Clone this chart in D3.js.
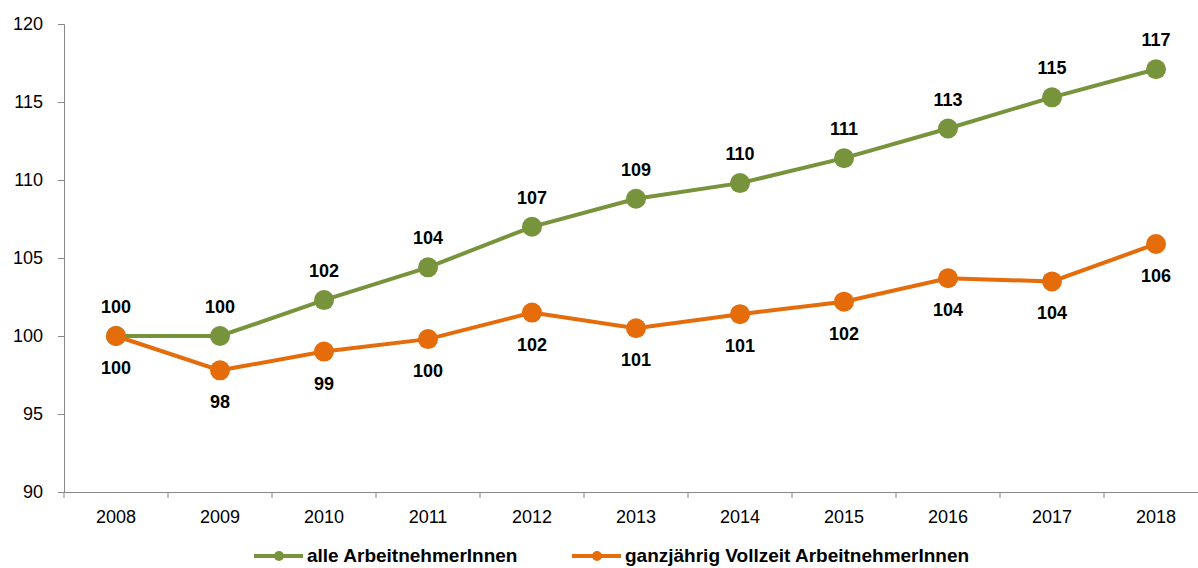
<!DOCTYPE html>
<html>
<head>
<meta charset="utf-8">
<script src="https://cdn.jsdelivr.net/npm/d3@7"></script>
<style>
  body { margin: 0; background: #fff; }
  text { font-family: "Liberation Sans", Arial, sans-serif; }
</style>
</head>
<body>
<div id="chart"></div>
<script>
const years = ['2008', '2009', '2010', '2011', '2012', '2013', '2014', '2015', '2016', '2017', '2018'];
const alle = [100, 100.0, 102.3, 104.4, 107.0, 108.8, 109.8, 111.4, 113.3, 115.3, 117.1];
const vollzeit = [100, 97.8, 99.0, 99.8, 101.5, 100.5, 101.4, 102.2, 103.7, 103.5, 105.9];
const alleLabels = ['100', '100', '102', '104', '107', '109', '110', '111', '113', '115', '117'];
const vollzeitLabels = ['100', '98', '99', '100', '102', '101', '101', '102', '104', '104', '106'];
const yTicks = [90, 95, 100, 105, 110, 115, 120];
const seriesNames = ['alle ArbeitnehmerInnen', 'ganzjährig Vollzeit ArbeitnehmerInnen'];

const width = 1198;
const height = 568;
const margin = { top: 24, right: -10, bottom: 76, left: 64 };

const svg = d3.select('#chart').append('svg')
  .attr('width', width)
  .attr('height', height);

const x = d3.scaleBand()
  .domain(years)
  .range([margin.left, width - margin.right]);

const y = d3.scaleLinear()
  .domain([90, 120])
  .range([height - margin.bottom, margin.top]);

// axes
const yAxis = svg.append('g')
  .attr('transform', `translate(${margin.left},0)`)
  .call(d3.axisLeft(y).tickValues(yTicks).tickSize(6).tickPadding(15));
yAxis.select('.domain').attr('stroke', '#888');
yAxis.selectAll('.tick line').attr('stroke', '#888');
yAxis.selectAll('.tick text').attr('font-size', 18).attr('fill', '#000')
  .attr('font-family', '"Liberation Sans", Arial, sans-serif');

const xAxis = svg.append('g')
  .attr('transform', `translate(0,${height - margin.bottom})`)
  .call(d3.axisBottom(x).tickSize(0).tickPadding(18));
xAxis.select('.domain').attr('stroke', '#888');
xAxis.selectAll('.tick text').attr('font-size', 18).attr('fill', '#000')
  .attr('font-family', '"Liberation Sans", Arial, sans-serif');
xAxis.selectAll('.sep')
  .data(years)
  .enter()
  .append('line')
  .attr('x1', d => x(d))
  .attr('x2', d => x(d))
  .attr('y1', 0)
  .attr('y2', 6)
  .attr('stroke', '#888');

const cx = d => x(d) + x.bandwidth() / 2;

const series = [
  { name: seriesNames[0], values: alle, labels: alleLabels, color: '#77933C', above: true },
  { name: seriesNames[1], values: vollzeit, labels: vollzeitLabels, color: '#E46C0A', above: false },
];

const line = d3.line()
  .x(d => cx(d.year))
  .y(d => y(d.value));

series.forEach(s => {
  const pts = years.map((yr, i) => ({ year: yr, value: s.values[i], label: s.labels[i] }));
  const g = svg.append('g');
  g.append('path')
    .datum(pts)
    .attr('d', line)
    .attr('fill', 'none')
    .attr('stroke', s.color)
    .attr('stroke-width', 4);
  g.selectAll('circle')
    .data(pts)
    .enter()
    .append('circle')
    .attr('cx', d => cx(d.year))
    .attr('cy', d => y(d.value))
    .attr('r', 10)
    .attr('fill', s.color);
  g.selectAll('text')
    .data(pts)
    .enter()
    .append('text')
    .attr('x', d => cx(d.year))
    .attr('y', d => s.above ? y(d.value) - 23 : y(d.value) + 38)
    .attr('text-anchor', 'middle')
    .attr('font-size', 18)
    .attr('font-weight', 'bold')
    .text(d => d.label);
});

// legend (nudged up a little so the descenders stay inside the page)
const legendY = 556;
const legendItems = [
  { name: seriesNames[0], color: '#77933C', x0: 254 },
  { name: seriesNames[1], color: '#E46C0A', x0: 572 },
];
legendItems.forEach(l => {
  const g = svg.append('g');
  g.append('line')
    .attr('x1', l.x0).attr('x2', l.x0 + 49)
    .attr('y1', legendY).attr('y2', legendY)
    .attr('stroke', l.color).attr('stroke-width', 4);
  g.append('circle')
    .attr('cx', l.x0 + 25).attr('cy', legendY).attr('r', 5)
    .attr('fill', l.color);
  g.append('text')
    .attr('x', l.x0 + 53)
    .attr('y', legendY + 6)
    .attr('font-size', 19)
    .attr('font-weight', 'bold')
    .text(l.name);
});
</script>
</body>
</html>
